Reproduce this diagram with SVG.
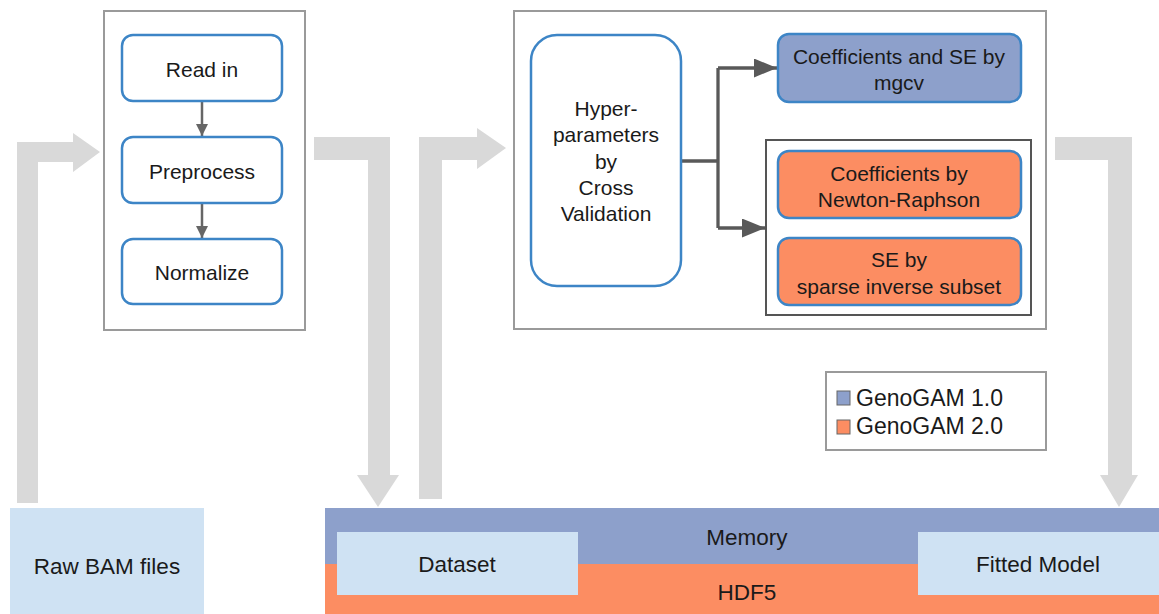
<svg xmlns="http://www.w3.org/2000/svg" width="1159" height="614" viewBox="0 0 1159 614">
<style>
text{font-family:"Liberation Sans",Arial,sans-serif;font-size:21px;fill:#1a1a1a;text-anchor:middle;dominant-baseline:central}
.panel{fill:none;stroke:#9a9a9a;stroke-width:2}
.node{fill:#fff;stroke:#3d85c6;stroke-width:2.5}
.v1{fill:#8da0cb;stroke:#3d85c6;stroke-width:2.5}
.v2{fill:#fc8d62;stroke:#3d85c6;stroke-width:2.5}
.big{fill:#d9d9d9}
.data{fill:#cfe2f3}
.conn{fill:none;stroke:#595959;stroke-width:3.3}
.thin{fill:none;stroke:#666;stroke-width:2.5}
.leg{font-size:23px;text-anchor:start}
.lg{font-size:22.5px}
</style>
<defs>
<marker id="ahL" viewBox="0 0 10 10" refX="10" refY="5" markerWidth="23" markerHeight="19" markerUnits="userSpaceOnUse" orient="auto" preserveAspectRatio="none"><path d="M0,0L10,5L0,10Z" fill="#595959"/></marker>
<marker id="ahS" viewBox="0 0 10 10" refX="10" refY="5" markerWidth="12" markerHeight="12" markerUnits="userSpaceOnUse" orient="auto" preserveAspectRatio="none"><path d="M0,0L10,5L0,10Z" fill="#666"/></marker>
</defs>

<g id="storage">
<rect x="325" y="508" width="834" height="56" fill="#8da0cb"/>
<rect x="325" y="564" width="834" height="50" fill="#fc8d62"/>
<text class="lg" x="747" y="537">Memory</text>
<text class="lg" x="747" y="592">HDF5</text>
</g>
<g id="raw-bam"><rect class="data" x="10" y="508" width="194" height="106"/><text class="lg" x="107" y="566">Raw BAM files</text></g>
<g id="dataset"><rect class="data" x="337" y="532" width="241" height="63"/><text class="lg" x="457" y="564">Dataset</text></g>
<g id="fitted-model"><rect class="data" x="918" y="532" width="241" height="63"/><text class="lg" x="1038" y="564">Fitted Model</text></g>

<g id="preprocessing-panel"><rect class="panel" x="104" y="11" width="201" height="319"/></g>
<g id="fitting-panel"><rect class="panel" x="514" y="11" width="532" height="318"/></g>
<g id="genogam2-group"><rect x="766" y="140" width="265" height="175" fill="none" stroke="#555" stroke-width="2"/></g>

<g id="connectors">
<path class="big" d="M17,503V142H73V133L100,152L73,172V162H38V503Z"/>
<path class="big" d="M314,137H390V475H399L378,507L357,475H368V160H314Z"/>
<path class="big" d="M419,499V137H477V128L506,148L477,169V160H442V499Z"/>
<path class="big" d="M1055,137H1132V475H1138L1119,507L1100,475H1108V160H1055Z"/>
<path class="conn" d="M681,161H718"/>
<path class="conn" d="M718,68V228"/>
<path class="conn" d="M718,68H777" marker-end="url(#ahL)"/>
<path class="conn" d="M718,228H765" marker-end="url(#ahL)"/>
<path class="thin" d="M202,102V136" marker-end="url(#ahS)"/>
<path class="thin" d="M202,204V238" marker-end="url(#ahS)"/>
</g>

<g id="read-in"><rect class="node" x="122" y="35" width="160" height="66" rx="11"/><text x="202" y="69">Read in</text></g>
<g id="preprocess"><rect class="node" x="122" y="137" width="160" height="66" rx="11"/><text x="202" y="171">Preprocess</text></g>
<g id="normalize"><rect class="node" x="122" y="239" width="160" height="65" rx="11"/><text x="202" y="272">Normalize</text></g>

<g id="hyperparameters"><rect class="node" x="531" y="35" width="150" height="251" rx="26"/>
<text x="606" y="108">Hyper-</text><text x="606" y="134">parameters</text><text x="606" y="161">by</text><text x="606" y="187">Cross</text><text x="606" y="213">Validation</text></g>
<g id="mgcv"><rect class="v1" x="778" y="34" width="243" height="68" rx="11"/><text x="899" y="56">Coefficients and SE by</text><text x="899" y="82">mgcv</text></g>
<g id="newton-raphson"><rect class="v2" x="778" y="151" width="243" height="67" rx="11"/><text x="899" y="173">Coefficients by</text><text x="899" y="199">Newton-Raphson</text></g>
<g id="sparse-inverse"><rect class="v2" x="778" y="238" width="243" height="67" rx="11"/><text x="899" y="259">SE by</text><text x="899" y="286">sparse inverse subset</text></g>

<g id="legend"><rect x="826" y="372" width="220" height="78" fill="#fff" stroke="#9a9a9a" stroke-width="2"/>
<rect x="837" y="391" width="13" height="14" fill="#8da0cb" stroke="#666" stroke-width="1"/>
<rect x="837" y="420" width="13" height="14" fill="#fc8d62" stroke="#666" stroke-width="1"/>
<text class="leg" x="856" y="398">GenoGAM 1.0</text>
<text class="leg" x="856" y="426">GenoGAM 2.0</text></g>
</svg>
